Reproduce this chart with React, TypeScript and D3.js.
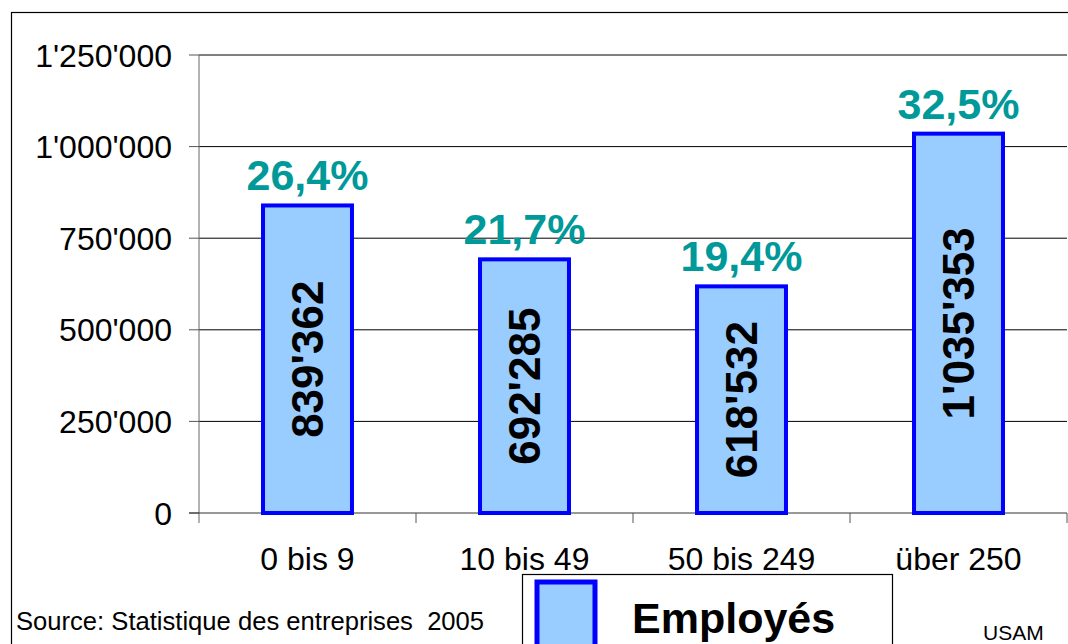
import React from "react";
import * as d3 from "d3";

const categories = ["0 bis 9", "10 bis 49", "50 bis 249", "über 250"];
const values = [839362, 692285, 618532, 1035353];
const valueLabels = ["839'362", "692'285", "618'532", "1'035'353"];
const percentLabels = ["26,4%", "21,7%", "19,4%", "32,5%"];
const yTicks = [0, 250000, 500000, 750000, 1000000, 1250000];
const yTickLabels = ["0", "250'000", "500'000", "750'000", "1'000'000", "1'250'000"];
const seriesName = "Employés";

const W = 1068;
const H = 644;
const left = 199;
const right = 1067;
const top = 55;
const bottom = 513;

export default function App() {
  const x = d3.scaleBand<string>().domain(categories).range([left, right]).paddingInner(0.59).paddingOuter(0.295);
  const y = d3.scaleLinear().domain([0, 1250000]).range([bottom, top]);
  const font = "Arial, 'Liberation Sans', sans-serif";
  const step = x.step();
  return (
    <svg width={W} height={H} style={{ position: "absolute", left: 0, top: 0 }} fontFamily={font}>
      <rect x={0} y={0} width={W} height={H} fill="#fff" />
      <rect x={11.5} y={12.5} width={W + 20} height={H + 20} fill="none" stroke="#000" strokeWidth={1.2} />
      {yTicks.map((t, i) => (
        <g key={t}>
          {i > 0 && <line x1={left} x2={right} y1={y(t)} y2={y(t)} stroke="#000" strokeWidth={1} />}
          <line x1={189} x2={left} y1={y(t)} y2={y(t)} stroke="#555" strokeWidth={1} />
          <text x={172} y={y(t) + 11.5} textAnchor="end" fontSize={32} fill="#000">
            {yTickLabels[i]}
          </text>
        </g>
      ))}
      <line x1={left} x2={left} y1={top} y2={bottom + 10} stroke="#666" strokeWidth={1} />
      <line x1={189} x2={right} y1={bottom} y2={bottom} stroke="#333" strokeWidth={1} />
      {categories.map((c, i) => (
        <line key={c} x1={left + step * (i + 1)} x2={left + step * (i + 1)} y1={bottom} y2={bottom + 10} stroke="#555" strokeWidth={1} />
      ))}
      {categories.map((c, i) => {
        const bx = x(c)!;
        const bw = x.bandwidth();
        const by = y(values[i]);
        const cx = bx + bw / 2;
        const cy = (by + bottom) / 2;
        return (
          <g key={c}>
            <rect x={bx} y={by} width={bw} height={bottom - by} fill="#99ccff" stroke="#0000ff" strokeWidth={4} />
            <text x={cx} y={by - 15} textAnchor="middle" fontSize={43} fontWeight="bold" fill="#009999">
              {percentLabels[i]}
            </text>
            <text transform={`translate(${cx + 15},${cy}) rotate(-90)`} textAnchor="middle" fontSize={44} fontWeight="bold" fill="#000">
              {valueLabels[i]}
            </text>
            <text x={cx} y={570} textAnchor="middle" fontSize={32} fill="#000">
              {c}
            </text>
          </g>
        );
      })}
      <text x={16} y={630} fontSize={25.6} fill="#000" style={{ whiteSpace: "pre" }}>Source: Statistique des entreprises  2005</text>
      <rect x={522.5} y={574.5} width={370} height={100} fill="#fff" stroke="#000" strokeWidth={1.2} />
      <rect x={537} y={582} width={58} height={70} fill="#99ccff" stroke="#0000ff" strokeWidth={5} />
      <text x={632} y={633} fontSize={43} fontWeight="bold" fill="#000">{seriesName}</text>
      <text x={983} y={640} fontSize={21} fill="#000">USAM</text>
    </svg>
  );
}
